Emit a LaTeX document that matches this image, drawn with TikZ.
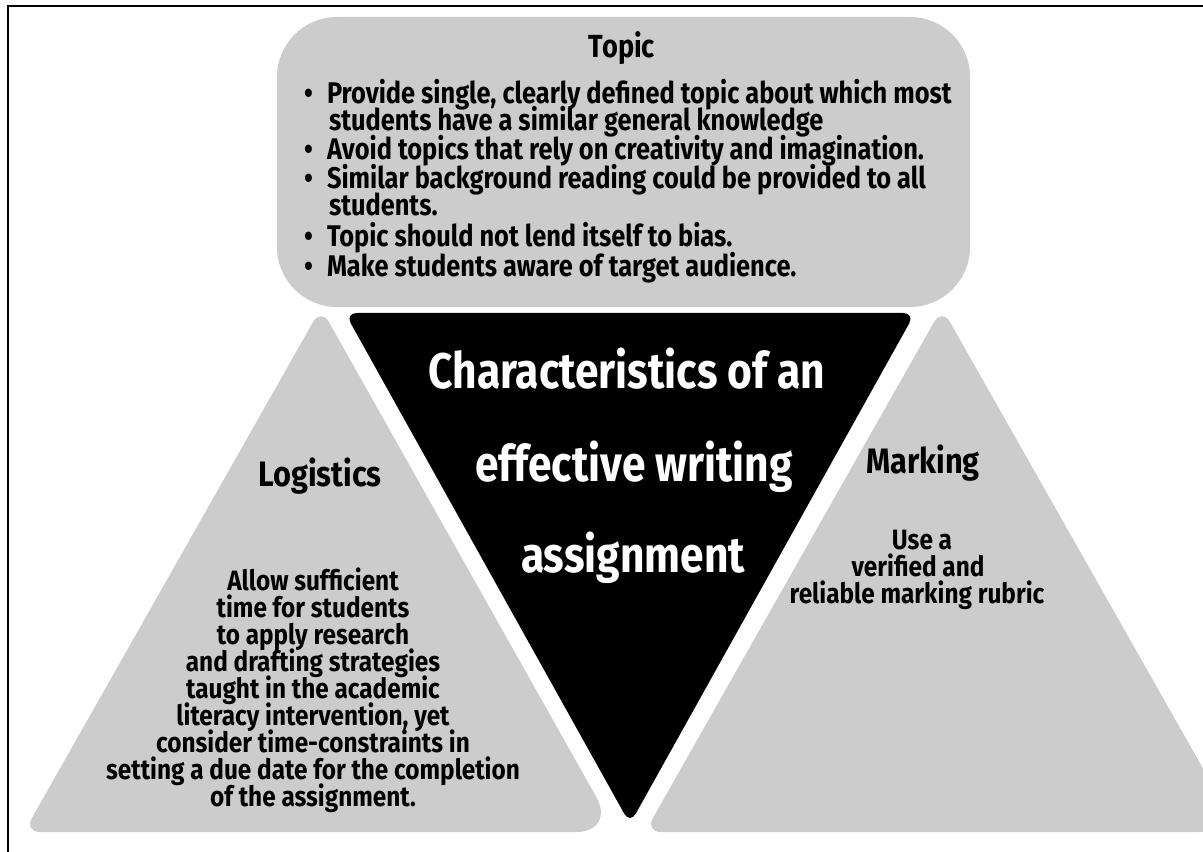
\documentclass[tikz,border=0pt]{standalone}
\usepackage{fontspec}
\setmainfont{Fira Sans}
\newfontfamily\fbul{Fira Sans}[FakeStretch=0.85]
\newfontfamily\fbig{Fira Sans}[FakeStretch=0.85]
\newfontfamily\fside{Fira Sans}[FakeStretch=0.87]
\definecolor{panel}{HTML}{CCCCCC}
\begin{document}
\begin{tikzpicture}[x=0.75pt,y=-0.75pt,
  every node/.style={inner sep=0pt, outer sep=0pt},
  panelfill/.style={fill=panel},
  topictitle/.style={font=\fbul\fontsize{24}{28}\selectfont\bfseries, anchor=base},
  bullettext/.style={font=\fbul\fontsize{22.4}{26}\selectfont\bfseries, anchor=base west},
  bigtext/.style={font=\fbig\fontsize{37.5}{40}\selectfont\bfseries, text=white, anchor=base},
  sidetitle/.style={font=\fside\fontsize{26.5}{29}\selectfont\bfseries, anchor=base},
  sidetext/.style={font=\fside\fontsize{21}{24}\selectfont\bfseries, anchor=base}]
\useasboundingbox (0,0) rectangle (1203,852);
\clip (0,0) rectangle (1203,852);
\fill[white] (0,0) rectangle (1203,852);
% frame
\coordinate (fr1) at (1203,6);
\coordinate (fr2) at (7.5,6);
\coordinate (fr3) at (7.5,852);
\draw[line width=1.5pt] (fr1) -- (fr2) -- (fr3);
% topic box
\fill[panelfill, rounded corners=45pt] (277,17) rectangle (970,307);
% triangles
\coordinate (LA) at (321,308);
\coordinate (LB) at (24,832);
\coordinate (LC) at (616,832);
\fill[panelfill, rounded corners=12pt] (LB) -- (LA) [rounded corners=30pt] -- (LC) [rounded corners=12pt] -- cycle;
\coordinate (RA) at (942,308);
\coordinate (RB) at (645,832);
\coordinate (RC) at (1239,832);
\fill[panelfill, rounded corners=12pt] (RB) -- (RA) [rounded corners=30pt] -- (RC) [rounded corners=12pt] -- cycle;
\coordinate (BA) at (345,313);
\coordinate (BB) at (915,313);
\coordinate (BC) at (630,824);
\fill[black, rounded corners=9pt] (BA) -- (BB) -- (BC) -- cycle;
% topic text
\node[topictitle] (topic) at (622,58) {Topic};
\node[bullettext] (b1) at (304,104) {•};
\node[bullettext] (t1) at (327,104) {Provide single, clearly defined topic about which most};
\node[bullettext] (t1b) at (329,131) {students have a similar general knowledge};
\node[bullettext] (b2) at (304,160) {•};
\node[bullettext] (t2) at (327,160) {Avoid topics that rely on creativity and imagination.};
\node[bullettext] (b3) at (304,189) {•};
\node[bullettext] (t3) at (327,189) {Similar background reading could be provided to all};
\node[bullettext] (t3b) at (329,216) {students.};
\node[bullettext] (b4) at (304,247) {•};
\node[bullettext] (t4) at (327,247) {Topic should not lend itself to bias.};
\node[bullettext] (b5) at (304,277) {•};
\node[bullettext] (t5) at (327,277) {Make students aware of target audience.};
% centre text
\node[bigtext] (c1) at (627,388) {Characteristics of an};
\node[bigtext] (c2) at (634,481) {effective writing};
\node[bigtext] (c3) at (633,572) {assignment};
% logistics
\node[sidetitle] (logt) at (320,486) {Logistics};
\foreach \t [count=\i] in {Allow sufficient, time for students, to apply research, and drafting strategies, taught in the academic, {literacy intervention, yet}, consider time-constraints in, setting a due date for the completion, of the assignment.}
  \node[sidetext] (log\i) at (313,{563+27*\i}) {\t};
% marking
\node[sidetitle] (markt) at (923,473) {Marking};
\node[sidetext] (m1) at (922,549) {Use a};
\node[sidetext] (m2) at (918,576) {verified and};
\node[sidetext] (m3) at (917,603) {reliable marking rubric};
\end{tikzpicture}
\end{document}
